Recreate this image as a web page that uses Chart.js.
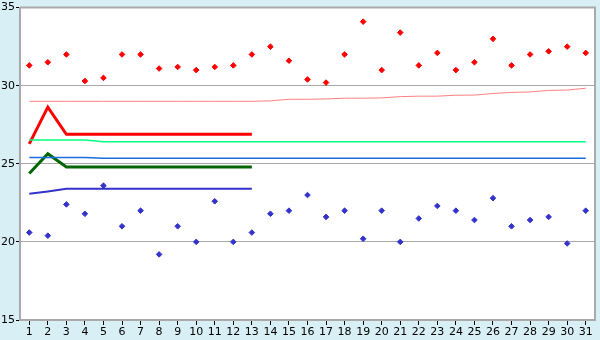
<!DOCTYPE html>
<html>
<head>
<meta charset="utf-8">
<script src="https://cdn.jsdelivr.net/npm/chart.js@4/dist/chart.umd.min.js"></script>
<style>
  html, body { margin: 0; padding: 0; background: #d9eff6; }
  #wrap { width: 600px; height: 340px; }
</style>
</head>
<body>
<div id="wrap"><canvas id="chart" width="600" height="340"></canvas></div>
<script>
// days of the month
const days = [];
for (let d = 1; d <= 31; d++) days.push(String(d));

// y axis ticks
const yTicks = [15, 20, 25, 30, 35];

// daily high / low points
const highPts = [31.3, 31.5, 32.0, 30.3, 30.5, 32.0, 32.0, 31.1, 31.2, 31.0, 31.2, 31.3, 32.0, 32.5, 31.6,
  30.4, 30.2, 32.0, 34.1, 31.0, 33.4, 31.3, 32.1, 31.0, 31.5, 33.0, 31.3, 32.0, 32.2, 32.5, 32.1];
const lowPts = [20.6, 20.4, 22.4, 21.8, 23.6, 21.0, 22.0, 19.2, 21.0, 20.0, 22.6, 20.0, 20.6, 21.8, 22.0,
  23.0, 21.6, 22.0, 20.2, 22.0, 20.0, 21.5, 22.3, 22.0, 21.4, 22.8, 21.0, 21.4, 21.6, 19.9, 22.0];

// long lines (whole month)
const pinkLine = [29.0, 29.0, 29.0, 29.0, 29.0, 29.0, 29.0, 29.0, 29.0, 29.0, 29.0, 29.0, 29.0, 29.03, 29.13,
  29.13, 29.15, 29.2, 29.2, 29.22, 29.3, 29.33, 29.33, 29.39, 29.4, 29.5, 29.57, 29.6, 29.7, 29.72, 29.84];
const greenLine = [26.53, 26.53, 26.53, 26.53, 26.41, 26.41, 26.41, 26.41, 26.41, 26.41, 26.41, 26.41, 26.41, 26.41, 26.41,
  26.41, 26.41, 26.41, 26.41, 26.41, 26.41, 26.41, 26.41, 26.41, 26.41, 26.41, 26.41, 26.41, 26.41, 26.41, 26.41];
const blueLine = [25.41, 25.41, 25.41, 25.41, 25.35, 25.35, 25.35, 25.35, 25.35, 25.35, 25.35, 25.35, 25.35, 25.35, 25.35,
  25.35, 25.35, 25.35, 25.35, 25.35, 25.35, 25.35, 25.35, 25.35, 25.35, 25.35, 25.35, 25.35, 25.35, 25.35, 25.35];

// short lines (days 1-13)
const redMean = [26.28, 28.63, 26.89, 26.89, 26.89, 26.89, 26.89, 26.89, 26.89, 26.89, 26.89, 26.89, 26.89];
const greenMean = [24.38, 25.64, 24.8, 24.8, 24.8, 24.8, 24.8, 24.8, 24.8, 24.8, 24.8, 24.8, 24.8];
const blueMean = [23.08, 23.23, 23.4, 23.4, 23.4, 23.4, 23.4, 23.4, 23.4, 23.4, 23.4, 23.4, 23.4];

function lineSet(data, color, width) {
    return {
        type: 'line', data: data, borderColor: color, borderWidth: width,
        pointRadius: 0, fill: false, tension: 0, spanGaps: false
    };
}
function pointSet(data, color) {
    return {
        type: 'line', data: data, showLine: false, pointStyle: 'rectRot',
        pointRadius: 2.8, backgroundColor: color, borderColor: color, borderWidth: 1
    };
}

// white plot area + frame on top and right
const frame = {
    id: 'frame',
    beforeDraw(chart) {
        const a = chart.chartArea, c = chart.ctx;
        c.save();
        c.fillStyle = '#ffffff';
        c.fillRect(a.left, a.top, a.right - a.left, a.bottom - a.top);
        c.restore();
    },
    beforeDatasetsDraw(chart) {
        const a = chart.chartArea, c = chart.ctx;
        c.save();
        c.strokeStyle = '#aaaaaa';
        c.lineWidth = 2;
        c.beginPath();
        c.moveTo(a.left, a.top);
        c.lineTo(a.right, a.top);
        c.lineTo(a.right, a.bottom);
        c.stroke();
        c.restore();
    }
};

const ctx = document.getElementById('chart').getContext('2d');
new Chart(ctx, {
    type: 'line',
    data: {
        labels: days,
        datasets: [
            lineSet(pinkLine, '#ff8080', 1),
            lineSet(greenLine, '#00ff80', 1.5),
            lineSet(blueLine, '#1a6fe0', 1.5),
            lineSet(redMean, '#ff0000', 3),
            lineSet(greenMean, '#006600', 3),
            lineSet(blueMean, '#3333cc', 2),
            pointSet(highPts, '#ff0000'),
            pointSet(lowPts, '#3333cc')
        ]
    },
    options: {
        responsive: false,
        animation: false,
        layout: { padding: { top: 5, right: 5, left: 0, bottom: 0 } },
        plugins: { legend: { display: false }, tooltip: { enabled: false } },
        scales: {
            x: {
                offset: true,
                grid: { drawOnChartArea: false, drawTicks: true, tickLength: 5, color: '#000000', offset: false },
                border: { color: '#aaaaaa', width: 2 },
                ticks: { color: '#000', font: { family: 'DejaVu Sans', size: 11 }, padding: 1, autoSkip: false, maxRotation: 0 },
                afterFit(s) { s.height = 20; }
            },
            y: {
                min: yTicks[0], max: yTicks[yTicks.length - 1],
                afterBuildTicks(s) { s.ticks = yTicks.map(v => ({ value: v })); },
                grid: { color: '#a8a8a8', lineWidth: 1, tickLength: 4, tickColor: '#000' },
                border: { color: '#aaaaaa', width: 2 },
                ticks: { color: '#000', font: { family: 'DejaVu Sans', size: 11 }, padding: 1 },
                afterFit(s) { s.width = 20; }
            }
        }
    },
    plugins: [frame]
});
</script>
</body>
</html>
